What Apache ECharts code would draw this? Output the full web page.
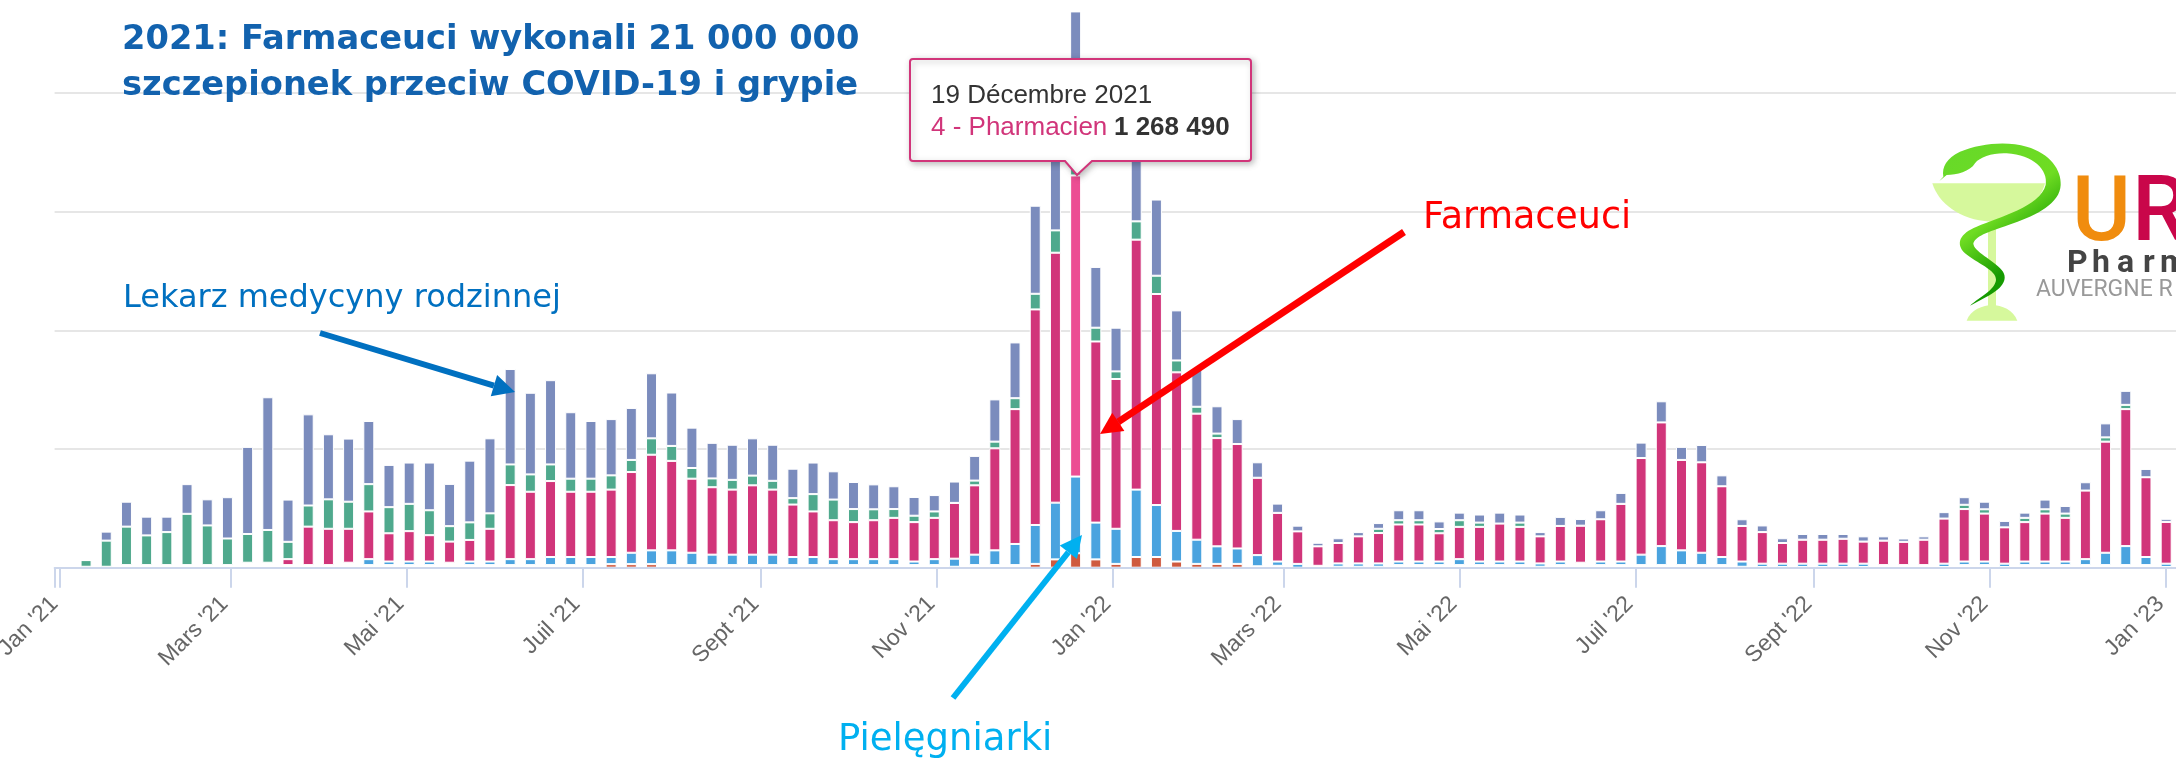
<!DOCTYPE html>
<html>
<head>
<meta charset="utf-8">
<title>Szczepienia 2021</title>
<script src="https://cdn.jsdelivr.net/npm/echarts@6/dist/echarts.min.js"></script>
<style>
html,body{margin:0;padding:0;background:#fff;overflow:hidden;}
#main{width:2176px;height:758px;}
</style>
</head>
<body>
<div id="main"></div>
<script>
// first weekly point, every bar is 7 days after the previous one
var firstWeek = '2021-01-10';
// values in thousands of doses per week
var autres = [4,4,11,11,11,11,11,11,21,21, 11,11,11,21,11,11,11,11,21,11, 11,11,11,11,11,11,0,0,0,11,
    11,11,11,11,11,11,11,11,11,11, 11,11,11,4,11,11,11,0,0,0, 0,0,0,0,0,0,0,0,6,8,
    0,8,4,4,4,11,11,11,11,11, 11,11,4,11,21,11,11,11,11,11, 11,11,4,3,3,3,3,3,3,11,
    11,11,3,11,11,3,11,11,11,11, 11,11,11,3];
var sagesFemmes = [0,0,0,0,0,0,0,0,0,0, 0,0,0,0,0,0,0,0,0,0, 0,0,0,0,0,0,15,15,15,0,
    0,0,0,0,0,0,0,0,0,0, 0,0,0,0,0,0,0,16,35,61, 35,16,45,45,26,16,16,16,0,0,
    0,0,0,0,0,0,0,0,0,0, 0,0,0,0,0,0,0,0,0,0, 0,0,0,0,0,0,0,0,0,0,
    0,0,0,0,0,0,0,0,0,0, 0,0,0,0];
var infirmiers = [0,0,0,0,0,0,0,0,0,0, 0,0,0,0,25,15,15,15,0,15, 15,25,25,34,34,34,30,48,58,62,
    52,44,44,44,44,34,34,25,25,25, 25,15,25,34,44,62,89,164,239,323, 155,148,284,219,129,102,74,65,47,18,
    16,0,14,14,14,15,15,15,25,15, 15,15,14,15,0,15,15,44,80,62, 52,34,22,14,14,14,14,14,14,0,
    0,0,14,15,15,14,15,15,15,25, 52,80,34,14];
var pharmaciens = [0,0,0,0,0,0,0,0,0,0, 25,162,153,143,201,119,128,111,89,91, 138,312,284,320,275,275,284,340,403,377,
    312,284,274,292,274,221,192,164,156,164, 174,166,174,235,292,430,568,908,1053,1268.49, 763,631,1053,889,668,531,456,440,326,205,
    137,82,86,114,128,156,156,119,136,146, 160,146,114,150,156,178,243,407,521,381, 381,298,150,133,87,101,101,105,93,103,
    98,107,190,221,202,153,166,202,184,289, 468,577,336,176];
var centres = [28,110,162,125,139,216,167,112,121,138, 73,89,124,114,115,110,115,105,65,74, 65,87,73,70,55,55,60,51,69,63,
    45,37,41,41,37,27,73,87,55,46, 37,27,27,0,20,28,46,66,94,73, 58,32,77,77,50,29,19,0,0,0,
    0,0,0,0,18,18,18,18,28,18, 0,18,0,0,0,0,0,0,0,0, 0,0,0,0,0,0,0,0,0,0,
    0,0,0,18,18,0,18,18,18,0, 18,18,0,0];
var medecins = [0,38,105,79,65,125,110,174,367,559, 178,384,274,266,266,178,174,201,178,260, 316,402,344,355,280,243,237,219,274,225,
    170,150,148,157,152,124,133,119,114,105, 96,79,69,90,104,178,235,371,487,618, 256,184,368,321,211,158,115,105,65,39,
    24,15,20,18,24,42,42,32,32,34, 46,34,18,38,28,38,46,65,89,55, 73,46,28,28,20,24,24,20,22,18,
    14,14,27,32,32,27,22,41,32,35, 59,59,35,13];

var tickDates = ['2021-01-01','2021-03-01','2021-05-01','2021-07-01','2021-09-01','2021-11-01','2022-01-01','2022-03-01','2022-05-01','2022-07-01','2022-09-01','2022-11-01','2023-01-01'];
var tickLabels = ["Jan '21","Mars '21","Mai '21","Juil '21","Sept '21","Nov '21","Jan '22","Mars '22","Mai '22","Juil '22","Sept '22","Nov '22","Jan '23"];
var highlightDate = '2021-12-19';

var DAY = 86400000;
var weeks = [];
for (var w = 0; w < medecins.length; w++) {
    weeks.push(new Date(firstWeek).getTime() + w * 7 * DAY);
}
var tickValues = tickDates.map(function (d) { return new Date(d).getTime(); });

function serie(name, values, color) {
    return {
        name: name,
        type: 'bar',
        stack: 'doses',
        barWidth: 11,
        animation: false,
        itemStyle: { color: color, borderColor: '#fff', borderWidth: 1 },
        data: values.map(function (v, i) {
            if (name === '4 - Pharmacien' && weeks[i] === new Date(highlightDate).getTime()) {
                return { value: [weeks[i], v], itemStyle: { color: '#ec4d93' } };
            }
            return [weeks[i], v];
        })
    };
}

// annotation arrow: shaft plus triangular head
function arrow(x1, y1, x2, y2, color, width) {
    var len = Math.sqrt((x2 - x1) * (x2 - x1) + (y2 - y1) * (y2 - y1));
    var ux = (x2 - x1) / len, uy = (y2 - y1) / len;
    var head = 22, half = 11;
    var bx = x2 - ux * head, by = y2 - uy * head;
    return [{
        type: 'line', silent: true, z: 6,
        shape: { x1: x1, y1: y1, x2: bx, y2: by },
        style: { stroke: color, lineWidth: width }
    }, {
        type: 'polygon', silent: true, z: 6,
        shape: { points: [[x2, y2], [bx - uy * half, by + ux * half], [bx + uy * half, by - ux * half]] },
        style: { fill: color }
    }];
}

function label(text, x, y, color, font) {
    return { type: 'text', silent: true, z: 7, x: x, y: y, style: { text: text, fill: color, font: font, verticalAlign: 'middle' } };
}

// svg outlines of the logo and the tooltip box
echarts.graphic.registerShape('logoBowl', echarts.graphic.extendPath('M157 190 L495 190 C480 250 420 290 330 305 C240 300 175 250 157 190 Z', {}));
echarts.graphic.registerShape('logoBase', echarts.graphic.extendPath('M260 602 C270 570 310 555 336 555 C365 555 400 570 412 602 Z', {}));
echarts.graphic.registerShape('logoSnake', echarts.graphic.extendPath('M178 183 L190 170 C185 140 200 115 240 95 C300 70 380 62 440 80 C510 100 545 150 542 195 ' +
    'C540 250 470 285 400 310 C330 335 290 345 280 370 C280 395 340 420 365 450 C390 480 360 510 320 530 ' +
    'L270 557 C300 530 345 510 348 480 C350 450 290 430 255 400 C225 370 240 340 290 320 ' +
    'C360 290 480 260 497 195 C505 150 460 105 380 100 C340 98 300 110 285 130 C270 155 230 165 200 165 Z', {}));
echarts.graphic.registerShape('tipBox', echarts.graphic.extendPath('M913 59 L1248 59 Q1251 59 1251 62 L1251 158 Q1251 161 1248 161 L1092 161 L1077 175 L1065 161 L913 161 Q910 161 910 158 L910 62 Q910 59 913 59 Z', {}));

var graphics = [
    // title
    label('2021: Farmaceuci wykonali 21 000 000', 122, 40, '#1262ae', 'bold 33.7px "DejaVu Sans"'),
    label('szczepionek przeciw COVID-19 i grypie', 122, 86, '#1262ae', 'bold 33.7px "DejaVu Sans"'),
    // annotations
    label('Lekarz medycyny rodzinnej', 123, 299, '#0070c0', '32px "DejaVu Sans"'),
    label('Farmaceuci', 1423, 219, '#ff0000', '36.5px "DejaVu Sans"'),
    label('Pielęgniarki', 838, 740, '#00b0f0', '37px "DejaVu Sans"'),
    // logo
    { type: 'logoBowl', silent: true, z: 5, x: 1880, y: 120, scaleX: 1 / 3, scaleY: 1 / 3, style: { fill: '#d6f89c' } },
    { type: 'rect', silent: true, z: 5, shape: { x: 1988, y: 222, width: 8, height: 85 }, style: { fill: '#d6f89c' } },
    { type: 'logoBase', silent: true, z: 5, x: 1880, y: 120, scaleX: 1 / 3, scaleY: 1 / 3, style: { fill: '#d6f89c' } },
    { type: 'logoSnake', silent: true, z: 6, x: 1880, y: 120, scaleX: 1 / 3, scaleY: 1 / 3,
        style: { fill: new echarts.graphic.LinearGradient(0, 0, 1, 1, [
            { offset: 0, color: '#66d92a' }, { offset: 0.45, color: '#6fdc22' }, { offset: 0.7, color: '#159a00' }, { offset: 1, color: '#1a9e05' }
        ]) } },
    label('U', 2072, 217, '#f08c0e', '500 90px Roboto'),
    label('R', 2132, 217, '#c9064a', '500 90px Roboto'),
    label('P', 2067, 264, '#444', 'bold 32px Roboto'),
    label('h', 2092, 264, '#444', 'bold 32px Roboto'),
    label('a', 2117, 264, '#444', 'bold 32px Roboto'),
    label('r', 2143, 264, '#444', 'bold 32px Roboto'),
    label('m', 2160, 264, '#444', 'bold 32px Roboto'),
    label('AUVERGNE R', 2036, 290, '#999', '23px Roboto'),
    // tooltip
    { type: 'tipBox', silent: true, z: 10,
        style: { fill: '#fff', stroke: '#d1357a', lineWidth: 2, shadowBlur: 6, shadowColor: 'rgba(0,0,0,0.25)', shadowOffsetX: 2, shadowOffsetY: 2 } },
    { type: 'text', silent: true, z: 11, x: 931, y: 96, style: { text: '19 Décembre 2021', fill: '#333', font: '26px "Liberation Sans"', verticalAlign: 'middle' } },
    { type: 'text', silent: true, z: 11, x: 931, y: 128, style: {
        text: '{a|4 - Pharmacien}  {b|1 268 490}', verticalAlign: 'middle',
        rich: { a: { fill: '#d1357a', font: '26px "Liberation Sans"' }, b: { fill: '#333', font: 'bold 26px "Liberation Sans"' } } } }
].concat(
    arrow(320, 333, 515, 392, '#0070c0', 6),
    arrow(1404, 232, 1100, 434, '#ff0000', 7),
    arrow(953, 698, 1082, 535, '#00b0f0', 6)
);

var myChart = echarts.init(document.getElementById('main'));
var option = {
    useUTC: true,
    animation: false,
    backgroundColor: '#fff',
    grid: { left: 54.6, right: 0, top: -2, height: 569.7, outerBoundsMode: 'none' },
    xAxis: {
        type: 'time',
        z: 3,
        min: new Date('2021-01-01').getTime(),
        max: new Date('2023-01-02T12:00:00Z').getTime(),
        splitNumber: 12,
        axisLine: { onZero: false, lineStyle: { color: '#ccd6eb', width: 2 } },
        axisTick: { length: 20, lineStyle: { color: '#ccd6eb', width: 2 } },
        splitLine: { show: false },
        axisLabel: {
            rotate: 45,
            margin: 27,
            padding: [0, 8, 0, 0],
            hideOverlap: false,
            showMinLabel: true,
            color: '#666',
            fontSize: 23,
            fontWeight: 'normal',
            fontFamily: '"Liberation Sans"',
            formatter: function (v) {
                var i = tickValues.indexOf(v);
                return i < 0 ? '' : tickLabels[i];
            }
        }
    },
    yAxis: {
        type: 'value',
        min: 0,
        max: 2400,
        interval: 500,
        axisLabel: { show: false },
        axisLine: { show: false },
        axisTick: { show: false },
        splitLine: { showMaxLine: false, lineStyle: { color: '#e6e6e6', width: 2 } }
    },
    series: [
        serie('Autres', autres, '#ffffff'),
        serie('Sage-femme', sagesFemmes, '#cf5a3f'),
        serie('Infirmier', infirmiers, '#4aa3df'),
        serie('4 - Pharmacien', pharmaciens, '#d1357a'),
        serie('Centre', centres, '#4fa98d'),
        serie('Médecin', medecins, '#7b8cbd')
    ],
    graphic: graphics
};
myChart.setOption(option);
</script>
</body>
</html>
